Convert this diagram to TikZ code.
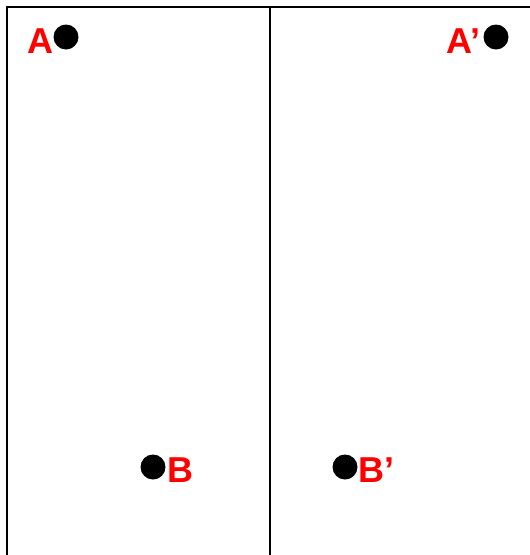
\documentclass[tikz,border=0pt]{standalone}
\usepackage{fontspec}
\setmainfont{Liberation Sans}
\usetikzlibrary{positioning}

\begin{document}
\begin{tikzpicture}[
    x=1pt, y=-1pt,
    point/.style={circle, fill=black, inner sep=0pt, minimum size=25pt},
    name_label/.style={inner sep=0pt, text=red, font=\fontsize{36}{40}\selectfont\bfseries},
    frame/.style={line width=1.6pt, color=black}
]
\useasboundingbox (0,0) rectangle (530,555);

% Marco
\coordinate (TL) at (7,7);
\coordinate (TR) at (530,7);
\coordinate (BL) at (7,555);
\coordinate (TM) at (270,7);
\coordinate (BM) at (270,555);
\draw[frame] (BL) -- (TL) -- (TR);
\draw[frame] (TM) -- (BM);

% Puntos
\node[point] (A) at (66,37) {};
\node[point] (A2) at (496,37) {};
\node[point] (B) at (153,467) {};
\node[point] (B2) at (345,467) {};

% Etiquetas
\node[name_label, anchor=base east] (lA) at (54,53) {A};
\node[name_label, anchor=base east] (lA2) at (481,53) {A’};
\node[name_label, anchor=base west] (lB) at (167,482) {B};
\node[name_label, anchor=base west] (lB2) at (358,482) {B’};

\end{tikzpicture}
\end{document}
